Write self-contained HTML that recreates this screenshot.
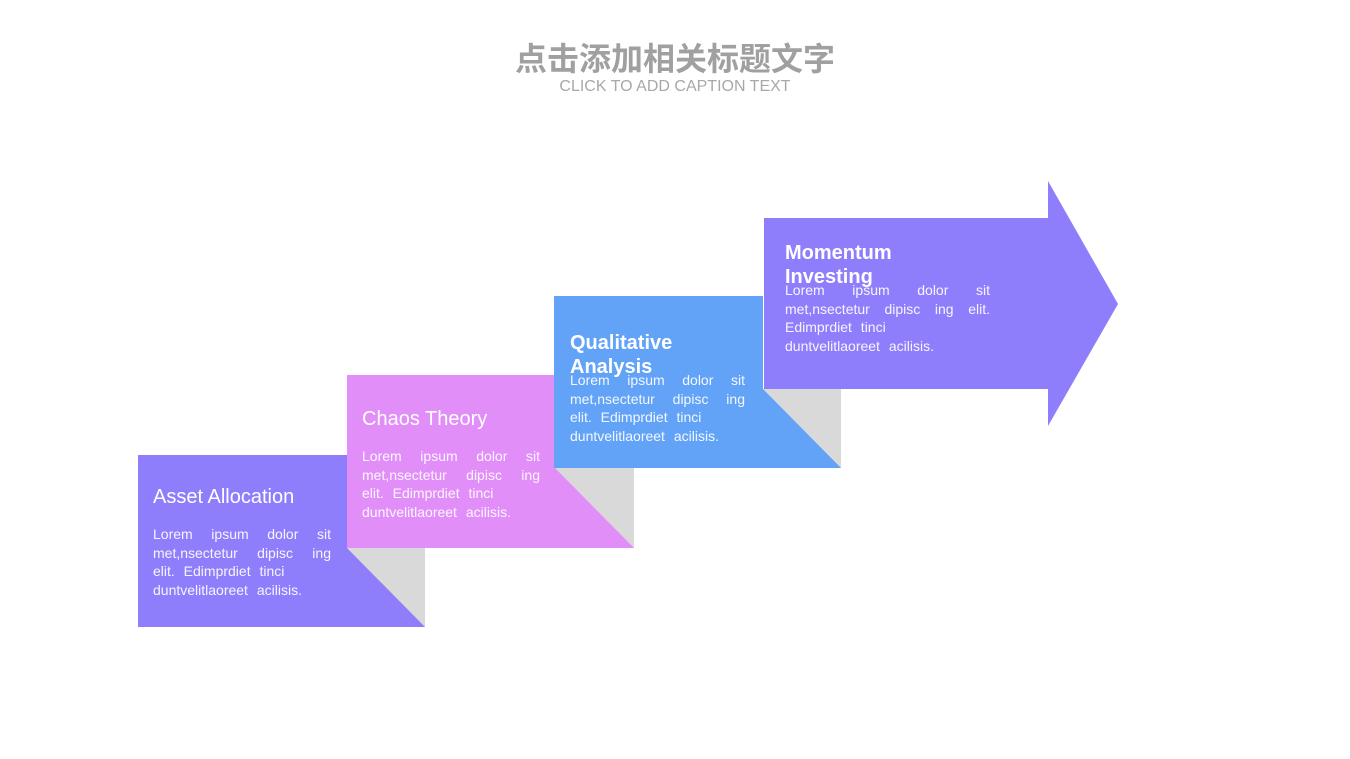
<!DOCTYPE html>
<html><head><meta charset="utf-8"><style>
html,body{margin:0;padding:0;background:#fff;width:1350px;height:759px;overflow:hidden;position:relative;font-family:"Liberation Sans",Arial,sans-serif}
.t1{position:absolute;left:0;width:1350px;top:34px;text-align:center;font:bold 32px "Liberation Sans","Noto Sans CJK SC",sans-serif;color:#a0a0a0}
.t2{position:absolute;left:0;width:1350px;top:78px;text-align:center;font-size:16px;color:#a8a8a8}
.h{position:absolute;color:#fff;font-size:20px;line-height:24px}
.hb{font-weight:bold;font-size:20px}
.p{position:absolute;color:#fff;font-size:14px;line-height:18.5px;width:178px;opacity:.92}
.p div{white-space:nowrap}
.j{text-align:justify;text-align-last:justify}
.s{word-spacing:5px}
</style></head><body>
<div class="t1">点击添加相关标题文字</div>
<div class="t2">CLICK TO ADD CAPTION TEXT</div>
<svg width="1350" height="759" style="position:absolute;left:0;top:0">
<rect x="347" y="548" width="78" height="79" fill="#d9d9d9"/>
<polygon points="138,455 347,455 347,548 425,627 138,627" fill="#8f7efc"/>
<rect x="555" y="468" width="79" height="80" fill="#d9d9d9"/>
<polygon points="347,375 555,375 555,468 634,548 347,548" fill="#e28ef9"/>
<rect x="763" y="389" width="78" height="79" fill="#d9d9d9"/>
<polygon points="554,296 763,296 763,389 841,468 554,468" fill="#62a3f7"/>
<polygon points="764,218 1048,218 1048,181 1118,304 1048,426 1048,389 764,389" fill="#8f7efc"/>
</svg>
<div class="h" style="left:153px;top:485px">Asset Allocation</div>
<div class="p" style="left:153px;top:525px"><div class="j">Lorem ipsum dolor sit</div><div class="j">met,nsectetur dipisc ing</div><div class="s">elit. Edimprdiet tinci</div><div class="s">duntvelitlaoreet acilisis.</div></div>
<div class="h" style="left:362px;top:407px">Chaos Theory</div>
<div class="p" style="left:362px;top:447px"><div class="j">Lorem ipsum dolor sit</div><div class="j">met,nsectetur dipisc ing</div><div class="s">elit. Edimprdiet tinci</div><div class="s">duntvelitlaoreet acilisis.</div></div>
<div class="h hb" style="left:570px;top:331px">Qualitative<br>Analysis</div>
<div class="p" style="left:570px;top:371px;width:175px"><div class="j">Lorem ipsum dolor sit</div><div class="j">met,nsectetur dipisc ing</div><div class="s">elit. Edimprdiet tinci</div><div class="s">duntvelitlaoreet acilisis.</div></div>
<div class="h hb" style="left:785px;top:241px">Momentum<br>Investing</div>
<div class="p" style="left:785px;top:281px;width:205px"><div class="j">Lorem ipsum dolor sit</div><div class="j">met,nsectetur dipisc ing elit.</div><div class="s">Edimprdiet tinci</div><div class="s">duntvelitlaoreet acilisis.</div></div>
</body></html>
